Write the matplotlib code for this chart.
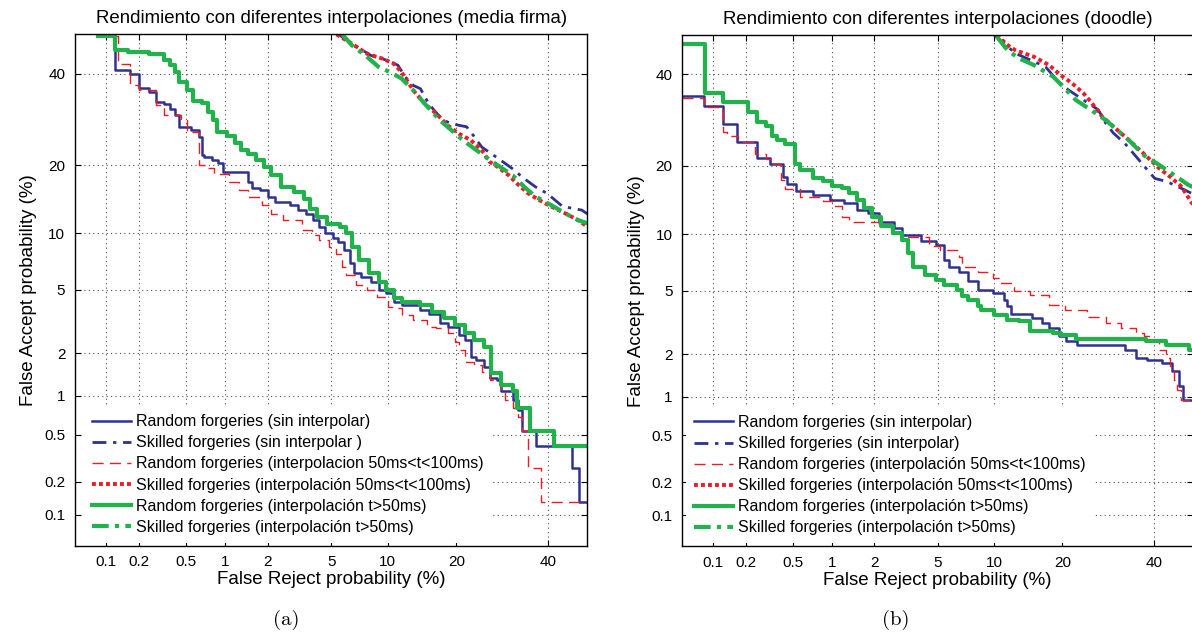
import math
import numpy as np
import matplotlib
matplotlib.use("Agg")
import matplotlib.pyplot as plt

# ---------------- data (percent) ----------------
# panel (a) media firma
a_rand_sin_fr = [0.082, 0.122, 0.164, 0.20, 0.243, 0.282, 0.33, 0.366, 0.408, 0.44, 0.545, 0.626, 0.672, 0.695,
                 0.796, 0.88, 0.97, 1.47, 1.57, 1.77, 2.0, 2.25, 2.83, 3.17, 3.53, 3.93, 4.25, 4.6, 5.09, 5.49,
                 5.91, 6.36, 6.68, 7.34, 8.23, 9.0, 9.83, 10.71, 11.64, 14.2, 15.4, 17.2, 18.5, 20.5, 21.6,
                 22.7, 23.8, 25.3, 26.5, 28.2, 29.0, 31.6, 32.9, 33.8, 37.0, 46.1, 48.0, 50]
a_rand_sin_fa = [49.5, 40.8, 40.0, 36.6, 35.5, 33.2, 32.8, 31.6, 30.1, 27.6, 26.9, 25.5, 21.8, 21.5,
                 20.9, 20.3, 18.8, 17.1, 16.1, 15.8, 14.8, 14.0, 13.6, 12.9, 12.4, 11.6, 10.8, 10.0, 9.45, 9.09,
                 8.24, 7.02, 6.2, 5.89, 5.57, 5.0, 4.78, 4.26, 4.07, 3.80, 3.62, 3.14, 2.99, 2.65, 2.46,
                 1.90, 1.80, 1.62, 1.34, 1.31, 1.08, 0.93, 0.78, 0.53, 0.40, 0.262, 0.132, 0.132]

a_skil_sin_fr = [5.49, 6.52, 8.23, 10.0, 11.2, 12.1, 13.2, 14.2, 15.4, 17.2, 18.5, 20.5, 21.9, 23.4, 24.9,
                 27.4, 29.9, 32.0, 33.8, 37.0, 39.8, 43.7, 48.6, 50]
a_skil_sin_fa = [50, 47.6, 44.6, 43.3, 42.1, 39.2, 37.1, 36.3, 32.8, 29.7, 28.6, 27.9, 27.6, 25.5, 23.4,
                 21.8, 20.3, 19.1, 17.9, 16.3, 15.3, 13.4, 12.9, 12.4]

a_rand_i1_fr = [0.082, 0.129, 0.164, 0.20, 0.282, 0.33, 0.455, 0.507, 0.626, 0.695, 0.822, 1.07, 1.26, 1.47,
                1.83, 2.12, 2.52, 3.34, 3.83, 4.25, 4.85, 5.36, 5.77, 6.06, 6.84, 7.87, 8.8, 10.0, 10.71,
                11.64, 13.2, 15.1, 16.6, 18.5, 19.8, 20.5, 21.6, 23.4, 24.9, 26.5, 29.0, 29.9, 31.6, 32.9,
                33.8, 35.2, 38.4, 50]
a_rand_i1_fa = [49.5, 42.5, 37.1, 35.9, 32.4, 30.1, 29.4, 26.5, 20.0, 19.4, 18.5, 17.1, 15.8, 14.8,
                13.6, 12.4, 11.6, 10.4, 9.8, 9.27, 8.6, 7.9, 6.74, 6.06, 5.33, 5.0, 4.56, 3.98, 3.89,
                3.55, 3.30, 3.0, 2.93, 2.72, 2.40, 2.11, 1.76, 1.67, 1.50, 1.31, 1.11, 0.93, 0.81, 0.695,
                0.53, 0.262, 0.132, 0.132]

a_skil_i1_fr = [5.36, 6.52, 7.87, 9.4, 10.7, 11.64, 13.2, 14.8, 16.6, 18.5, 20.5, 22.7, 24.9, 26.5, 28.2,
                30.7, 32.5, 35.2, 37.9, 40.8, 44.6, 47.6, 50]
a_skil_i1_fa = [50, 47.6, 45.0, 43.8, 42.5, 40.4, 35.9, 32.8, 30.5, 27.9, 26.1, 24.8, 22.8, 20.6, 19.7,
                18.2, 16.9, 15.3, 14.3, 13.4, 12.4, 11.6, 10.8]

a_rand_i2_fr = [0.084, 0.122, 0.158, 0.243, 0.33, 0.366, 0.408, 0.44, 0.507, 0.564, 0.672, 0.743, 0.811, 0.868,
                1.04, 1.18, 1.30, 1.47, 1.67, 1.88, 2.12, 2.45, 2.99, 3.44, 3.73, 4.15, 4.72, 5.63, 6.06,
                6.52, 7.17, 8.05, 9.0, 9.83, 10.71, 11.64, 14.2, 15.96, 17.83, 19.8, 21.6, 23.4, 25.3, 26.9,
                29.0, 31.6, 32.5, 35.6, 41.6, 50]
a_rand_i2_fa = [49.6, 45.9, 45.4, 45.0, 43.5, 42.1, 40.4, 37.9, 36.1, 33.5, 32.9, 30.9, 29.0, 26.5,
                25.6, 24.2, 22.8, 22.0, 21.0, 19.7, 18.2, 16.3, 15.5, 14.5, 13.1, 12.0, 11.1, 10.8, 10.0,
                8.6, 7.3, 6.2, 5.57, 5.0, 4.47, 4.26, 4.07, 3.71, 3.38, 3.07, 2.72, 2.46, 2.2, 1.46,
                1.20, 1.08, 0.81, 0.53, 0.40, 0.40]

a_skil_i2_fr = [5.77, 6.52, 7.87, 9.0, 10.25, 11.64, 13.2, 14.8, 17.2, 19.1, 21.2, 23.4, 25.7, 28.2, 31.6,
                34.3, 37.0, 40.8, 44.6, 47.6, 50]
a_skil_i2_fa = [50, 47.2, 44.2, 41.7, 40.4, 38.8, 35.9, 32.8, 29.0, 26.9, 24.8, 23.1, 21.5, 20.0, 18.2,
                16.3, 14.8, 13.6, 12.4, 11.6, 11.2]

# panel (b) doodle
b_rand_sin_fr = [0.05, 0.081, 0.123, 0.165, 0.248, 0.32, 0.415, 0.445, 0.531, 0.722, 0.975, 1.22, 1.52, 1.82,
                 2.17, 2.72, 3.05, 3.98, 4.89, 5.4, 5.82, 6.56, 7.37, 8.26, 9.83, 11.2, 11.6, 12.1, 15.0,
                 16.5, 17.7, 19.4, 20.7, 22.8, 33.0, 35.7, 38.4, 42.2, 44.6, 46.5, 47.5, 50]
b_rand_sin_fa = [34.7, 32.4, 28.4, 24.6, 21.4, 20.3, 18.1, 16.9, 15.8, 15.2, 14.4, 14.0, 13.0, 12.6,
                 11.5, 10.7, 9.9, 9.3, 8.85, 7.4, 6.8, 6.4, 5.64, 5.06, 4.84, 4.42, 4.04, 3.64, 3.42,
                 3.19, 2.97, 2.63, 2.44, 2.29, 2.14, 1.88, 1.83, 1.74, 1.52, 1.19, 0.95, 0.95]

b_skil_sin_fr = [10.0, 11.2, 12.6, 15.3, 17.1, 19.0, 21.1, 24.0, 27.1, 28.7, 30.4, 33.0, 35.7, 38.4, 40.3,
                 43.2, 46.0, 49.7, 50]
b_skil_sin_fa = [50, 47.8, 45.3, 43.2, 41.9, 38.6, 36.2, 33.8, 31.5, 28.5, 26.4, 24.3, 21.7, 19.3, 17.8,
                 17.3, 16.5, 15.4, 15.3]

b_rand_i1_fr = [0.05, 0.081, 0.123, 0.133, 0.168, 0.238, 0.298, 0.333, 0.40, 0.43, 0.57, 0.854, 1.0, 1.18,
                1.34, 1.71, 2.17, 2.58, 3.05, 3.78, 4.42, 5.14, 6.56, 6.87, 8.26, 9.83, 10.7, 12.4, 14.7,
                17.7, 20.4, 24.7, 28.7, 32.1, 35.7, 37.5, 39.4, 41.3, 43.2, 44.1, 45.1, 46.0, 47.0, 50]
b_rand_i1_fa = [34.2, 32.2, 26.7, 25.8, 24.6, 22.2, 21.2, 20.3, 17.6, 16.1, 14.9, 14.2, 13.5, 12.1,
                11.5, 11.4, 10.9, 10.1, 9.7, 9.65, 8.7, 8.35, 7.7, 6.8, 6.4, 5.9, 5.5, 4.95, 4.74,
                4.13, 3.85, 3.5, 3.19, 2.97, 2.76, 2.63, 2.44, 2.14, 1.88, 1.65, 1.33, 1.12, 0.95, 0.95]

b_skil_i1_fr = [10.3, 11.6, 12.6, 15.3, 17.7, 19.7, 21.8, 24.0, 25.5, 27.9, 30.4, 33.9, 37.5, 41.3, 44.1,
                47.0, 49.7, 50]
b_skil_i1_fa = [50, 47.4, 46.1, 44.4, 42.3, 39.8, 37.8, 35.4, 33.4, 30.0, 27.8, 25.0, 22.3, 19.6, 18.1,
                16.5, 14.0, 13.8]

b_rand_i2_fr = [0.05, 0.084, 0.123, 0.205, 0.248, 0.298, 0.333, 0.371, 0.43, 0.513, 0.57, 0.722, 0.854, 1.0,
                1.18, 1.34, 1.52, 1.71, 1.93, 2.23, 2.65, 3.05, 3.30, 3.58, 4.20, 4.89, 5.4, 6.4, 6.87,
                7.37, 8.26, 8.6, 10.0, 11.6, 13.1, 14.7, 18.4, 19.7, 22.5, 38.0, 43.2, 48.9, 50]
b_rand_i2_fa = [47.7, 35.4, 33.2, 31.1, 28.8, 27.8, 25.7, 25.0, 24.2, 20.3, 19.3, 17.8, 17.3, 16.5,
                16.2, 15.4, 14.4, 13.3, 12.1, 10.9, 10.1, 9.4, 8.0, 6.8, 6.15, 5.76, 5.4, 5.06, 4.63,
                4.4, 4.04, 3.85, 3.6, 3.35, 3.27, 2.83, 2.76, 2.69, 2.53, 2.44, 2.29, 2.14, 2.14]

b_skil_i2_fr = [10.3, 11.6, 13.1, 15.3, 18.4, 20.4, 22.5, 25.5, 28.7, 31.2, 33.9, 37.5, 41.3, 45.1, 48.9, 50]
b_skil_i2_fa = [49.6, 46.1, 44.0, 42.3, 39.4, 36.6, 33.8, 31.5, 29.2, 27.1, 25.0, 22.0, 20.2, 18.4, 16.7, 16.4]

ticks = [0.1, 0.2, 0.5, 1, 2, 5, 10, 20, 40]
tick_labels = ["0.1", "0.2", "0.5", "1", "2", "5", "10", "20", "40"]

labels_a = ["Random forgeries (sin interpolar)",
            "Skilled forgeries (sin interpolar )",
            "Random forgeries (interpolacion 50ms<t<100ms)",
            "Skilled forgeries (interpolación 50ms<t<100ms)",
            "Random forgeries (interpolación t>50ms)",
            "Skilled forgeries (interpolación t>50ms)"]
labels_b = ["Random forgeries (sin interpolar)",
            "Skilled forgeries (sin interpolar)",
            "Random forgeries (interpolación 50ms<t<100ms)",
            "Skilled forgeries (interpolación 50ms<t<100ms)",
            "Random forgeries (interpolación t>50ms)",
            "Skilled forgeries (interpolación t>50ms)"]

BLUE = "#2e3192"
RED = "#ed1c24"
GREEN = "#21b24b"

# ---------------- normal deviate scale ----------------
_A = [-3.969683028665376e+01, 2.209460984245205e+02, -2.759285104469687e+02,
      1.383577518672690e+02, -3.066479806614716e+01, 2.506628277459239e+00]
_B = [-5.447609879822406e+01, 1.615858368580409e+02, -1.556989798598866e+02,
      6.680131188771972e+01, -1.328068155288572e+01]
_C = [-7.784894002430293e-03, -3.223964580411365e-01, -2.400758277161838e+00,
      -2.549671348529998e+00, 4.374664141464968e+00, 2.938163982698783e+00]
_D = [7.784695709041462e-03, 3.224671290700398e-01, 2.445134137142996e+00,
      3.754408661907416e+00]
P_LOW = 0.02425


def _tail(q):
    num = ((((_C[0] * q + _C[1]) * q + _C[2]) * q + _C[3]) * q + _C[4]) * q + _C[5]
    den = (((_D[0] * q + _D[1]) * q + _D[2]) * q + _D[3]) * q + 1
    return num / den


def probit(pct):
    shape = np.shape(pct)
    p = np.clip(np.atleast_1d(np.asarray(pct, dtype=float)) / 100.0, 1e-12, 1 - 1e-12)
    out = np.empty_like(p)
    lo = p < P_LOW
    hi = p > 1 - P_LOW
    mid = ~(lo | hi)
    out[lo] = _tail(np.sqrt(-2 * np.log(p[lo])))
    out[hi] = -_tail(np.sqrt(-2 * np.log(1 - p[hi])))
    q = p[mid] - 0.5
    r = q * q
    num = (((((_A[0] * r + _A[1]) * r + _A[2]) * r + _A[3]) * r + _A[4]) * r + _A[5]) * q
    den = ((((_B[0] * r + _B[1]) * r + _B[2]) * r + _B[3]) * r + _B[4]) * r + 1
    out[mid] = num / den
    return out.reshape(shape)


_erf = np.vectorize(math.erf, otypes=[float])


def inv_probit(z):
    return 50.0 * (1.0 + _erf(np.asarray(z, dtype=float) / math.sqrt(2)))


# ---------------- figure ----------------
plt.rcParams['font.family'] = ['Liberation Sans', 'DejaVu Sans']

fig = plt.figure(figsize=(11.92, 6.33), dpi=100)
ax_a = fig.add_axes([0.0629, 0.1379, 0.4298, 0.8079])
ax_b = fig.add_axes([0.5724, 0.1367, 0.4284, 0.8081])


def draw_panel(ax, series, labels, title, leg_x):
    ax.set_xscale('function', functions=(probit, inv_probit))
    ax.set_yscale('function', functions=(probit, inv_probit))
    ax.set_xlim(0.05, 50)
    ax.set_ylim(0.05, 50)

    (r1x, r1y), (s1x, s1y), (r2x, r2y), (s2x, s2y), (r3x, r3y), (s3x, s3y) = series
    ax.plot(r1x, r1y, drawstyle='steps-post', color=BLUE, lw=1.8, label=labels[0])
    ax.plot(s1x, s1y, color=BLUE, lw=2.0, linestyle=(0, (5, 2.4, 1.2, 2.4)), label=labels[1])
    ax.plot(r2x, r2y, drawstyle='steps-post', color=RED, lw=1.0, dashes=(8, 4.5), label=labels[2])
    ax.plot(s2x, s2y, color=RED, lw=2.8, linestyle=(0, (1, 0.8)), label=labels[3])
    ax.plot(r3x, r3y, drawstyle='steps-post', color=GREEN, lw=3.0, label=labels[4])
    ax.plot(s3x, s3y, color=GREEN, lw=3.0, linestyle=(0, (4, 1.5, 1, 1.5)), label=labels[5])

    ax.set_xticks(ticks)
    ax.set_xticklabels(tick_labels)
    ax.set_yticks(ticks)
    ax.set_yticklabels(tick_labels)
    ax.xaxis.set_minor_locator(matplotlib.ticker.NullLocator())
    ax.yaxis.set_minor_locator(matplotlib.ticker.NullLocator())
    ax.tick_params(direction='in', length=4, width=0.8, labelsize=11, pad=7,
                   top=True, right=True)
    ax.grid(True, linestyle=(0, (1, 3)), color='0.3', lw=0.8)
    for sp in ax.spines.values():
        sp.set_linewidth(1.0)

    ax.set_title(title, fontsize=13.4, pad=8)
    ax.set_xlabel("False Reject probability (%)", fontsize=13.5, labelpad=1)
    ax.set_ylabel("False Accept probability (%)", fontsize=13.5, labelpad=5)

    leg = ax.legend(loc='lower left', bbox_to_anchor=(leg_x, 0.006), borderaxespad=0,
                    fontsize=11.5, frameon=True, fancybox=False, framealpha=1,
                    facecolor='white', edgecolor='none', borderpad=0.5,
                    handlelength=2.4, handletextpad=0.33, labelspacing=0.38)
    leg.set_zorder(5)


draw_panel(ax_a,
           [(a_rand_sin_fr, a_rand_sin_fa), (a_skil_sin_fr, a_skil_sin_fa),
            (a_rand_i1_fr, a_rand_i1_fa), (a_skil_i1_fr, a_skil_i1_fa),
            (a_rand_i2_fr, a_rand_i2_fa), (a_skil_i2_fr, a_skil_i2_fa)],
           labels_a, "Rendimiento con diferentes interpolaciones (media firma)", 0.0185)
draw_panel(ax_b,
           [(b_rand_sin_fr, b_rand_sin_fa), (b_skil_sin_fr, b_skil_sin_fa),
            (b_rand_i1_fr, b_rand_i1_fa), (b_skil_i1_fr, b_skil_i1_fa),
            (b_rand_i2_fr, b_rand_i2_fa), (b_skil_i2_fr, b_skil_i2_fa)],
           labels_b, "Rendimiento con diferentes interpolaciones (doodle)", 0.008)

fig.text(286 / 1192, 1 - 620 / 633, "(a)", family='cmr10', fontsize=15, ha='center', va='center')
fig.text(896 / 1192, 1 - 620 / 633, "(b)", family='cmr10', fontsize=15, ha='center', va='center')

fig.savefig("out.png", dpi=100)
